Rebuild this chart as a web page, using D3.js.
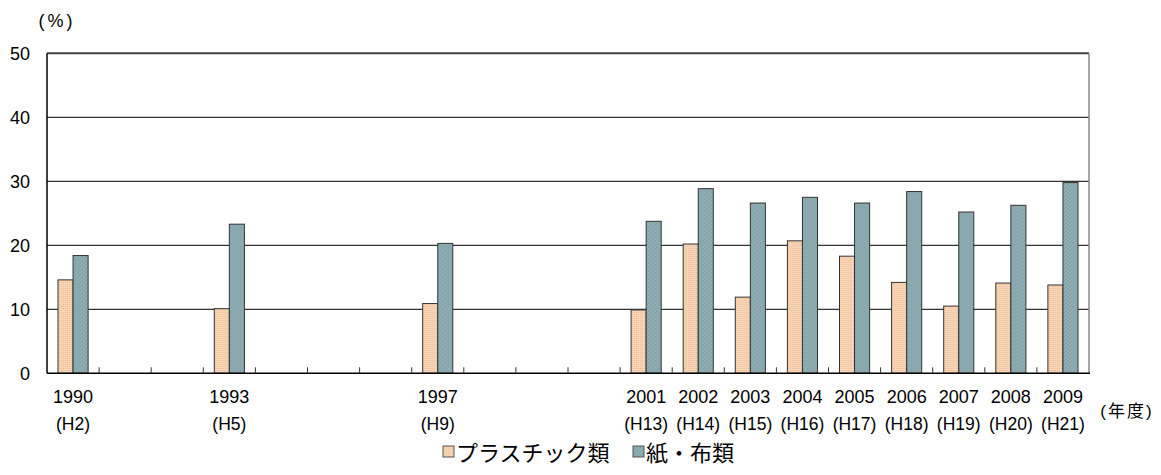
<!DOCTYPE html>
<html><head><meta charset="utf-8">
<script src="https://cdn.jsdelivr.net/npm/d3@7/dist/d3.min.js"></script>
<style>body{margin:0;background:#fff}svg{display:block}text{font-family:"Liberation Sans","Noto Sans CJK JP",sans-serif;fill:#000}</style>
</head><body>
<svg id="c" width="1161" height="475"></svg>
<script>
const allYears = [1990,1991,1992,1993,1994,1995,1996,1997,1998,1999,2000,2001,2002,2003,2004,2005,2006,2007,2008,2009];
const years = [1990,1993,1997,2001,2002,2003,2004,2005,2006,2007,2008,2009];
const eraLabels = ["H2","H5","H9","H13","H14","H15","H16","H17","H18","H19","H20","H21"];
const plastic = [14.6,10.1,10.9,9.9,20.2,11.9,20.7,18.3,14.2,10.5,14.1,13.8];
const paper = [18.4,23.3,20.3,23.75,28.85,26.6,27.5,26.6,28.4,25.2,26.25,29.8];
const seriesNames = ["プラスチック類","紙・布類"];
const yTicks = [0,10,20,30,40,50];

const svg = d3.select("#c");
const L = 47, R = 1089, T = 53.3, B = 373.3;
const x = d3.scaleBand().domain(allYears).range([L, R]).padding(0);
const x1 = d3.scaleBand().domain([0,1]).range([0, x.bandwidth()]).paddingInner(0).paddingOuter(0.73);
const y = d3.scaleLinear().domain([0,50]).range([B, T]);

const defs = svg.append("defs");
const p1 = defs.append("pattern").attr("id","pOr").attr("width",4).attr("height",4).attr("patternUnits","userSpaceOnUse");
p1.append("rect").attr("width",4).attr("height",4).attr("fill","#f9d5b5");
p1.append("rect").attr("x",0).attr("y",0).attr("width",1).attr("height",1).attr("fill","#e4b690");
p1.append("rect").attr("x",2).attr("y",2).attr("width",1).attr("height",1).attr("fill","#e4b690");
p1.append("rect").attr("x",2).attr("y",0).attr("width",1).attr("height",1).attr("fill","#f0c6a2");
p1.append("rect").attr("x",0).attr("y",2).attr("width",1).attr("height",1).attr("fill","#f0c6a2");
const p2 = defs.append("pattern").attr("id","pBl").attr("width",4).attr("height",4).attr("patternUnits","userSpaceOnUse");
p2.append("rect").attr("width",4).attr("height",4).attr("fill","#8dadb2");
p2.append("path").attr("d","M0,4L4,0M-1,1L1,-1M3,5L5,3").attr("stroke","#7d9ea4").attr("stroke-width",1);
const fills = ["url(#pOr)","url(#pBl)"];

// gridlines
svg.append("g").selectAll("line").data(yTicks.filter(t=>t>0 && t<50)).join("line")
  .attr("x1",L).attr("x2",R).attr("y1",d=>y(d)).attr("y2",d=>y(d))
  .attr("stroke","#000").attr("stroke-width",1);
// top border & right border
svg.append("line").attr("x1",L).attr("x2",R).attr("y1",y(50)).attr("y2",y(50)).attr("stroke","#444").attr("stroke-width",2);
svg.append("line").attr("x1",R).attr("x2",R).attr("y1",y(50)).attr("y2",B).attr("stroke","#888").attr("stroke-width",1.5);

// bars
const data = years.map((yr,i)=>({yr, vals:[plastic[i], paper[i]]}));
const g = svg.append("g").selectAll("g").data(data).join("g").attr("transform",d=>`translate(${x(d.yr)},0)`);
g.selectAll("rect").data(d=>d.vals.map((v,k)=>({v,k}))).join("rect")
  .attr("x",d=>x1(d.k)).attr("width",x1.bandwidth())
  .attr("y",d=>y(d.v)).attr("height",d=>B-y(d.v))
  .attr("fill",d=>fills[d.k]).attr("stroke","#333").attr("stroke-width",1);

// axes
svg.append("line").attr("x1",L).attr("x2",L).attr("y1",T).attr("y2",B).attr("stroke","#000").attr("stroke-width",1.5);
svg.append("line").attr("x1",L).attr("x2",R+1).attr("y1",B).attr("y2",B).attr("stroke","#000").attr("stroke-width",1.5);
svg.append("g").selectAll("line").data(allYears.slice(1)).join("line")
  .attr("x1",d=>x(d)).attr("x2",d=>x(d)).attr("y1",B).attr("y2",B-6).attr("stroke","#333").attr("stroke-width",1);

// y labels
svg.append("g").selectAll("text").data(yTicks).join("text")
  .attr("x",30).attr("y",d=>y(d)).attr("dy","0.36em").attr("text-anchor","end")
  .attr("font-size",18).text(d=>d);

// x labels
const xl = svg.append("g").selectAll("g").data(years.map((yr,i)=>({yr,era:eraLabels[i]}))).join("g");
xl.append("text").attr("x",d=>x(d.yr)+x.bandwidth()/2).attr("y",403).attr("text-anchor","middle").attr("font-size",18).text(d=>d.yr);
xl.append("text").attr("x",d=>x(d.yr)+x.bandwidth()/2).attr("y",430).attr("text-anchor","middle").attr("font-size",17.5).text(d=>"("+d.era+")");

svg.append("text").attr("x",1127).attr("y",417).attr("text-anchor","middle").attr("font-size",17).attr("letter-spacing",2).text("(年度)");
svg.append("text").attr("x",57).attr("y",27).attr("text-anchor","middle").attr("font-size",18).attr("letter-spacing",3).text("(%)");

// legend
const leg = [{x:443, tx:456},{x:633, tx:646}];
leg.forEach((l,k)=>{
  svg.append("rect").attr("x",l.x).attr("y",446).attr("width",11).attr("height",11).attr("fill",fills[k]).attr("stroke","#555").attr("stroke-width",1);
  svg.append("text").attr("x",l.tx).attr("y",461).attr("font-size",22).attr("font-family","Noto Sans CJK JP").text(seriesNames[k]);
});
</script>
</body></html>
